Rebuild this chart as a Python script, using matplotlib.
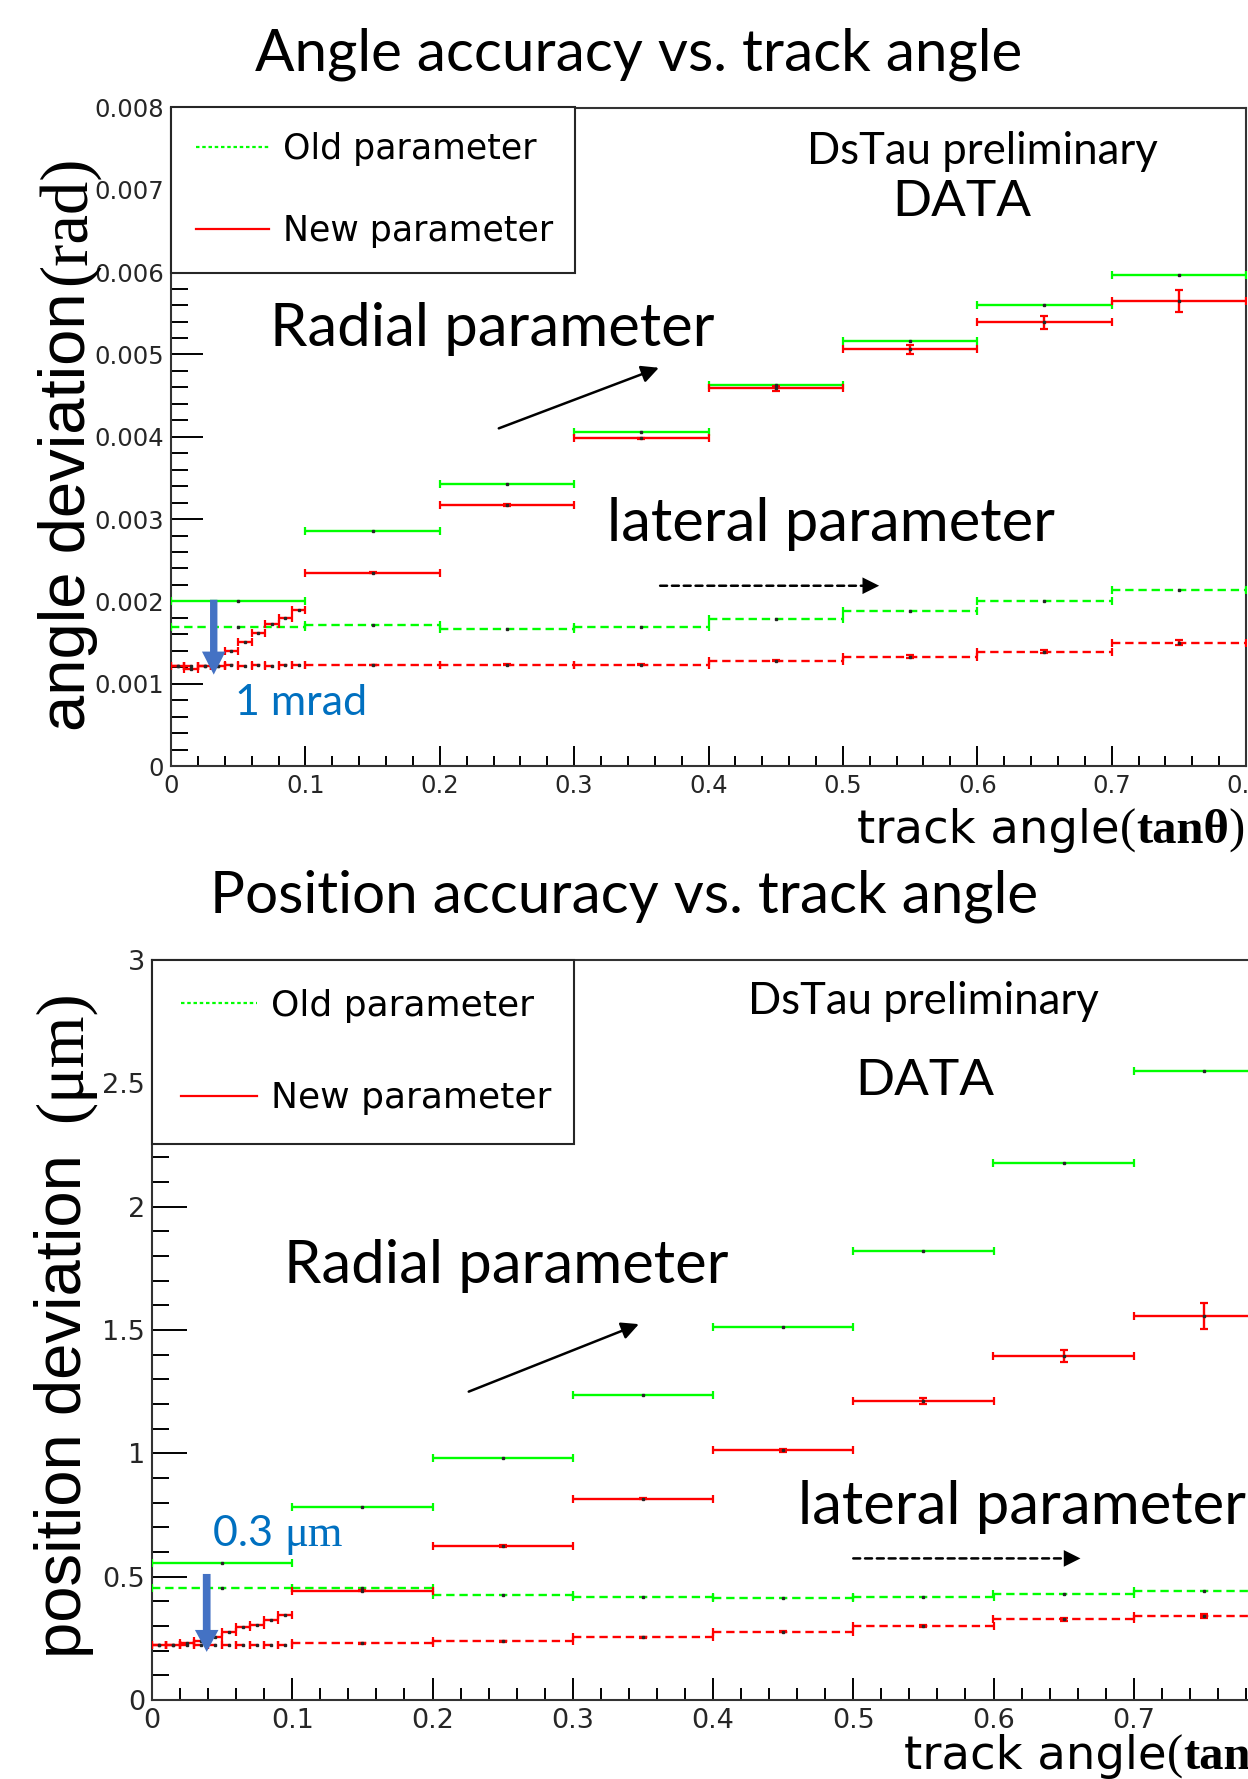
import numpy as np
import matplotlib
matplotlib.use("Agg")
import matplotlib.pyplot as plt
from matplotlib.lines import Line2D
from matplotlib.ticker import MultipleLocator, FuncFormatter

plt.rcParams['lines.scale_dashes'] = False
plt.rcParams['font.family'] = ['DejaVu Sans']

W, H = 1248, 1779

# ---------------- data ----------------
coarse_edges = [0.0, 0.1, 0.2, 0.3, 0.4, 0.5, 0.6, 0.7, 0.8]
fine_edges = [0.0, 0.01, 0.02, 0.03, 0.04, 0.05, 0.06, 0.07, 0.08, 0.09, 0.1]

# angle accuracy (rad)
ang_old_radial = [0.00201, 0.00286, 0.00343, 0.00406, 0.00463, 0.00516, 0.00560, 0.00597]
ang_old_lateral = [0.00169, 0.00171, 0.00167, 0.00169, 0.00178, 0.00188, 0.00201, 0.00214]
ang_new_radial_fine = [0.00122, 0.00118, 0.00121, 0.00122, 0.00140, 0.00151, 0.00162, 0.00172, 0.00180, 0.00190]
ang_new_radial = [0.00235, 0.00317, 0.00398, 0.00459, 0.00506, 0.00539, 0.00565]
ang_new_radial_err = [0.000005, 0.000008, 0.00001, 0.00003, 0.00005, 0.00008, 0.00013]
ang_new_lateral_fine = [0.00122, 0.00121, 0.00122, 0.00122, 0.00123, 0.00122, 0.00123, 0.00122, 0.00123, 0.00123]
ang_new_lateral = [0.00123, 0.00123, 0.00123, 0.00128, 0.00133, 0.00139, 0.00150]
ang_new_lateral_err = [0.000003, 0.000004, 0.000006, 0.00001, 0.000015, 0.00002, 0.00003]

# position accuracy (um)
pos_old_radial = [0.557, 0.784, 0.982, 1.235, 1.513, 1.820, 2.178, 2.550]
pos_old_lateral = [0.454, 0.453, 0.427, 0.419, 0.412, 0.419, 0.428, 0.443]
pos_new_radial_fine = [0.223, 0.223, 0.230, 0.239, 0.255, 0.276, 0.296, 0.304, 0.324, 0.343]
pos_new_radial = [0.443, 0.625, 0.816, 1.013, 1.213, 1.394, 1.558]
pos_new_radial_err = [0.002, 0.003, 0.003, 0.006, 0.012, 0.023, 0.053]
pos_new_lateral_fine = [0.224, 0.222, 0.224, 0.223, 0.224, 0.223, 0.224, 0.223, 0.224, 0.225]
pos_new_lateral = [0.230, 0.238, 0.254, 0.277, 0.301, 0.327, 0.340]
pos_new_lateral_err = [0.001, 0.001, 0.002, 0.003, 0.004, 0.005, 0.007]

legend_labels = ['Old parameter', 'New parameter']

GREEN = '#00ff00'
RED = '#ff0000'
ARROW_BLUE = '#4472c4'
TEXT_BLUE = '#0070c0'
PPT_FONT = 'Lato'


def fpos(x, y):
    """image pixel -> figure fraction"""
    return x / W, 1 - y / H


def hist_bars(ax, edges, vals, errs=None, color=RED, dashed=False):
    edges = np.asarray(edges)
    centers = (edges[:-1] + edges[1:]) / 2
    half = np.diff(edges) / 2
    eb = ax.errorbar(centers, vals, xerr=half, yerr=errs, fmt='none', ecolor=color,
                     elinewidth=1.7, capsize=3.2, capthick=1.6, zorder=3)
    if dashed:
        eb[2][0].set_linestyle((0, (6, 3.5)))
    ax.plot(centers, vals, ls='none', marker='s', ms=1.5, color='0.15', zorder=4)


def style_axes(ax, ymax, ymajor, yminor, xlen, ylen, labelsize):
    ax.set_xlim(0, 0.8)
    ax.set_ylim(0, ymax)
    ax.xaxis.set_major_locator(MultipleLocator(0.1))
    ax.xaxis.set_minor_locator(MultipleLocator(0.02))
    ax.yaxis.set_major_locator(MultipleLocator(ymajor))
    ax.yaxis.set_minor_locator(MultipleLocator(yminor))
    fmt = FuncFormatter(lambda v, _: '0' if abs(v) < 1e-12 else f'{v:g}')
    ax.xaxis.set_major_formatter(fmt)
    ax.yaxis.set_major_formatter(fmt)
    ax.tick_params(axis='x', which='major', direction='in', length=xlen[0], width=1.4,
                   labelsize=labelsize, pad=6, top=False, labelcolor='0.15')
    ax.tick_params(axis='x', which='minor', direction='in', length=xlen[1], width=1.4, top=False)
    ax.tick_params(axis='y', which='major', direction='in', length=ylen[0], width=1.4,
                   labelsize=labelsize, pad=5, right=False, labelcolor='0.15')
    ax.tick_params(axis='y', which='minor', direction='in', length=ylen[1], width=1.4, right=False)
    for s in ax.spines.values():
        s.set_linewidth(1.5)
        s.set_color('0.2')


def draw_legend(ax, width_frac, fontsize, spacing, bpad):
    handles = [Line2D([], [], color=GREEN, lw=1.6, ls=(0, (2.5, 2))),
               Line2D([], [], color=RED, lw=1.6)]
    leg = ax.legend(handles, legend_labels, loc='upper left', bbox_to_anchor=(0, 0, width_frac, 1),
                    mode='expand', borderaxespad=0, fancybox=False, edgecolor='0.15', framealpha=1,
                    prop={'family': 'DejaVu Sans', 'size': fontsize}, handlelength=2.1,
                    handletextpad=0.4, labelspacing=spacing, borderpad=bpad)
    leg.get_frame().set_linewidth(1.5)


def dashed_arrow(ax, start, end, head_frac):
    # dashed shaft and a solid filled head
    mid = (end[0] - head_frac * (end[0] - start[0]), end[1])
    ax.annotate('', xy=mid, xytext=start,
                arrowprops=dict(arrowstyle='-', color='k', lw=1.8, ls=(0, (5, 3.5)),
                                shrinkA=0, shrinkB=0))
    ax.annotate('', xy=end, xytext=start,
                arrowprops=dict(arrowstyle='-|>', color='k', lw=0, mutation_scale=30,
                                shrinkA=0, shrinkB=0))


fig = plt.figure(figsize=(W / 100, H / 100), dpi=100)

# ---------------- top panel: angle ----------------
ax1 = fig.add_axes([171 / W, 1 - 766 / H, 1075 / W, 658.5 / H])
hist_bars(ax1, coarse_edges, ang_old_lateral, color=GREEN, dashed=True)
hist_bars(ax1, fine_edges, ang_new_lateral_fine, color=RED, dashed=True)
hist_bars(ax1, coarse_edges[1:], ang_new_lateral, ang_new_lateral_err, color=RED, dashed=True)
hist_bars(ax1, coarse_edges, ang_old_radial, color=GREEN)
hist_bars(ax1, fine_edges, ang_new_radial_fine, color=RED)
hist_bars(ax1, coarse_edges[1:], ang_new_radial, ang_new_radial_err, color=RED)
style_axes(ax1, 0.008, 0.001, 0.0002, (14.4, 7.2), (23, 12), 17.5)
draw_legend(ax1, 404 / 1075, 25, 1.38, 0.72)

ax1.annotate('', xy=(0.365, 0.00485), xytext=(0.242, 0.00409),
             arrowprops=dict(arrowstyle='-|>', color='k', lw=1.8, mutation_scale=26))
dashed_arrow(ax1, (0.364, 0.00219), (0.527, 0.00219), 0.06)
ax1.arrow(0.0318, 0.00202, 0, -0.00091, width=0.0055, head_width=0.0175, head_length=0.00028,
          length_includes_head=True, color=ARROW_BLUE, lw=0, zorder=6)

fig.text(*fpos(639, 54), 'Angle accuracy vs. track angle', ha='center', va='center',
         fontsize=42, family=PPT_FONT)
fig.text(*fpos(982, 151), 'DsTau preliminary', ha='center', va='center', fontsize=31.5, family=PPT_FONT)
fig.text(*fpos(962, 202), 'DATA', ha='center', va='center', fontsize=37, family=PPT_FONT)
fig.text(*fpos(270, 329), 'Radial parameter', ha='left', va='center', fontsize=43, family=PPT_FONT)
fig.text(*fpos(607, 524), 'lateral parameter', ha='left', va='center', fontsize=43, family=PPT_FONT)
fig.text(*fpos(235, 703), '1 mrad', ha='left', va='center', fontsize=31, family=PPT_FONT,
         color=TEXT_BLUE)
fig.text(*fpos(85, 512), 'angle deviation', rotation=90, rotation_mode='anchor', ha='center',
         va='baseline', fontsize=47, family='Liberation Sans')
fig.text(*fpos(85, 220), '(rad)', rotation=90, rotation_mode='anchor', ha='center',
         va='baseline', fontsize=48, family='Liberation Serif')

# ---------------- bottom panel: position ----------------
ax2 = fig.add_axes([152 / W, 1 - 1700 / H, 1122 / W, 740 / H])
hist_bars(ax2, coarse_edges, pos_old_lateral, color=GREEN, dashed=True)
hist_bars(ax2, fine_edges, pos_new_lateral_fine, color=RED, dashed=True)
hist_bars(ax2, coarse_edges[1:], pos_new_lateral, pos_new_lateral_err, color=RED, dashed=True)
hist_bars(ax2, coarse_edges, pos_old_radial, color=GREEN)
hist_bars(ax2, fine_edges, pos_new_radial_fine, color=RED)
hist_bars(ax2, coarse_edges[1:], pos_new_radial, pos_new_radial_err, color=RED)
style_axes(ax2, 3, 0.5, 0.1, (16, 8.6), (25, 12), 19.5)
draw_legend(ax2, 422 / 1122, 26, 1.62, 0.8)

ax2.annotate('', xy=(0.349, 1.528), xytext=(0.224, 1.246),
             arrowprops=dict(arrowstyle='-|>', color='k', lw=1.8, mutation_scale=26))
dashed_arrow(ax2, (0.500, 0.574), (0.662, 0.574), 0.06)
ax2.arrow(0.039, 0.511, 0, -0.316, width=0.0055, head_width=0.0168, head_length=0.089,
          length_includes_head=True, color=ARROW_BLUE, lw=0, zorder=6)

fig.text(*fpos(624, 896), 'Position accuracy vs. track angle', ha='center', va='center',
         fontsize=42, family=PPT_FONT)
fig.text(*fpos(923, 1001), 'DsTau preliminary', ha='center', va='center', fontsize=31.5, family=PPT_FONT)
fig.text(*fpos(925, 1081), 'DATA', ha='center', va='center', fontsize=37, family=PPT_FONT)
fig.text(*fpos(284, 1266), 'Radial parameter', ha='left', va='center', fontsize=43, family=PPT_FONT)
fig.text(*fpos(798, 1507), 'lateral parameter', ha='left', va='center', fontsize=43, family=PPT_FONT)
fig.text(*fpos(81, 1406), 'position deviation', rotation=90, rotation_mode='anchor',
         ha='center', va='baseline', fontsize=47, family='Liberation Sans')
fig.text(*fpos(81, 1056), '(μm)', rotation=90, rotation_mode='anchor', ha='center',
         va='baseline', fontsize=48, family='Liberation Serif')

# text pieces with mixed fonts, placed one after another
renderer = fig.canvas.get_renderer()


def chain_text(x0, y0, parts):
    x = x0
    for s, kw in parts:
        t = fig.text(x / W, 1 - y0 / H, s, ha='left', va='baseline', **kw)
        x = t.get_window_extent(renderer).x1


chain_text(213, 1546, [('0.3 ', dict(fontsize=31, family=PPT_FONT, color=TEXT_BLUE)),
                       ('μm', dict(fontsize=32, family='Liberation Serif', color=TEXT_BLUE))])

xlabel_parts = [('track angle', dict(fontsize=33.5, family='DejaVu Sans')),
                ('(', dict(fontsize=35, family='Liberation Serif')),
                ('tanθ', dict(fontsize=35, family='Liberation Serif', weight='bold')),
                (')', dict(fontsize=35, family='Liberation Serif'))]
chain_text(857, 843, xlabel_parts)
chain_text(904, 1769, xlabel_parts)

fig.savefig('out.png', dpi=100)
